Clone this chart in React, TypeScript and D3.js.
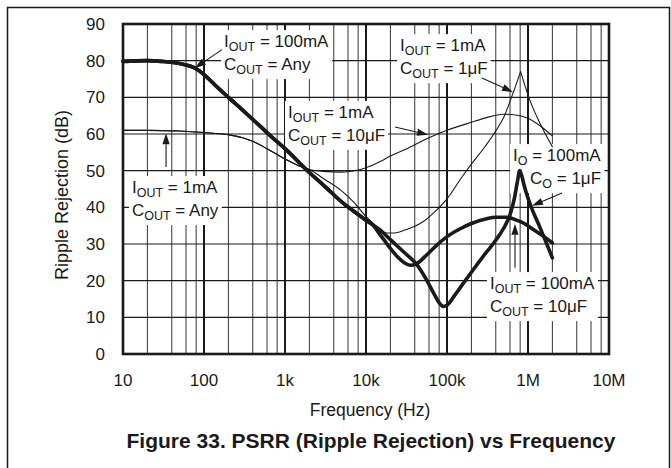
import { useEffect, useRef } from "react";
import * as d3 from "d3";

type Pt = [number, number];

const WIDTH = 671;
const HEIGHT = 468;
const MARGIN = { top: 24, right: 62, bottom: 114, left: 123 };
const FONT = "'Liberation Sans', Arial, Helvetica, sans-serif";
const INK = "#1a1a1a";

const X_TICKS = [10, 100, 1e3, 1e4, 1e5, 1e6, 1e7];
const X_TICK_LABELS = ["10", "100", "1k", "10k", "100k", "1M", "10M"];
const Y_TICKS = [0, 10, 20, 30, 40, 50, 60, 70, 80, 90];
const MINOR_STEPS = [2, 4, 6, 8];

// IOUT = 100mA, below ~12kHz the curve does not depend on COUT
const THICK_COMMON: Pt[] = [
  [10, 79.8], [20, 80], [30, 79.8], [50, 79.2], [80, 77.8], [100, 76.2],
  [150, 72.5], [200, 70], [300, 66.5], [500, 62], [700, 59], [1000, 56],
  [2000, 49.5], [3000, 46], [5000, 41.5], [7000, 39], [10000, 36.5], [12000, 35.3],
];
const THICK_10UF: Pt[] = [
  [15000, 32.5], [20000, 28.8], [25000, 26.3], [30000, 24.8], [35000, 24.2],
  [42000, 24.6], [56000, 27], [75000, 29.7], [100000, 32], [150000, 34.3],
  [200000, 35.6], [300000, 36.8], [400000, 37.3], [550000, 37.3], [700000, 36.6],
  [900000, 35.6], [1.1e6, 34.3], [1.5e6, 32.3], [2e6, 30.3],
];
const THICK_1UF: Pt[] = [
  [15000, 33.8], [20000, 31.2], [30000, 27.6], [42000, 24.5], [55000, 20.5],
  [70000, 16.2], [80000, 14], [90000, 13], [100000, 13.3], [120000, 15.5],
  [150000, 18.5], [200000, 22.3], [300000, 27.5], [400000, 31], [500000, 34.3],
  [600000, 38], [680000, 42.5], [740000, 47], [790000, 50], [840000, 48.5],
  [900000, 45.8], [1e6, 42.5], [1.1e6, 40], [1.4e6, 34.6], [2e6, 26.2],
];

// IOUT = 1mA, below ~2kHz the curve does not depend on COUT
const THIN_COMMON: Pt[] = [
  [10, 61], [20, 61], [50, 60.8], [100, 60.4], [200, 59.8], [300, 59],
  [400, 58], [600, 56], [1000, 53.2], [1500, 51.3], [2000, 50.3],
];
const THIN_10UF: Pt[] = [
  [3000, 49.8], [5000, 49.6], [7000, 49.9], [10000, 50.8], [15000, 52.5],
  [20000, 54], [32000, 56], [60000, 59], [100000, 61], [200000, 63.2],
  [300000, 64.4], [500000, 65.4], [700000, 65.2], [1e6, 64.3], [1.3e6, 62.8],
  [1.6e6, 61.3], [2e6, 59.5],
];
const THIN_1UF_RISE: Pt[] = [
  [3000, 47.8], [5000, 44.5], [7000, 41.5], [10000, 37.5], [12000, 35.8],
  [15000, 33.8], [18000, 33], [22000, 33], [30000, 33.8], [50000, 36],
  [70000, 38.7], [100000, 42.3], [150000, 48], [200000, 51.8], [300000, 56.8],
  [400000, 60.8], [500000, 64.5], [650000, 71], [810000, 77],
];
const THIN_1UF_FALL: Pt[] = [[810000, 77], [1.05e6, 69.3], [1.4e6, 63], [2e6, 56.5]];

const SERIES: { points: Pt[]; width: number }[] = [
  { points: [...THIN_COMMON, ...THIN_10UF], width: 1.1 },
  { points: [...THIN_COMMON, ...THIN_1UF_RISE], width: 1.1 },
  { points: THIN_1UF_FALL, width: 1.1 },
  { points: [...THICK_COMMON, ...THICK_10UF], width: 3.6 },
  { points: [...THICK_COMMON, ...THICK_1UF], width: 3.6 },
];

// each line: [main, subscript, rest, indent]
type NoteLine = [string, string, string, number];
interface Note {
  at: Pt;
  lines: NoteLine[];
  arrow: [Pt, Pt];
}

const NOTES: Note[] = [
  {
    at: [177, 83.7],
    lines: [["I", "OUT", " = 100mA", 0], ["C", "OUT", " = Any", 0]],
    arrow: [[167, 83], [77, 78]],
  },
  {
    at: [26300, 82.6],
    lines: [["I", "OUT", " = 1mA", 0], ["C", "OUT", " = 1\u03bcF", 0]],
    arrow: [[270000, 75.3], [653000, 71.4]],
  },
  {
    at: [1090, 64.4],
    lines: [["I", "OUT", " = 1mA", 0], ["C", "OUT", " = 10\u03bcF", 0]],
    arrow: [[22800, 61.9], [58300, 59.8]],
  },
  {
    at: [12.9, 43.9],
    lines: [["I", "OUT", " = 1mA", 0], ["C", "OUT", " = Any", 0]],
    arrow: [[34, 51], [34, 60.2]],
  },
  {
    at: [653000, 52.6],
    lines: [["I", "O", " = 100mA", 0], ["C", "O", " = 1\u03bcF", 17]],
    arrow: [[2.63e6, 43.9], [1.12e6, 40.4]],
  },
  {
    at: [339000, 17.7],
    lines: [["I", "OUT", " = 100mA", 0], ["C", "OUT", " = 10\u03bcF", 0]],
    arrow: [[691000, 23.5], [691000, 35.5]],
  },
];

export default function App() {
  const svgRef = useRef<SVGSVGElement>(null);

  useEffect(() => {
    document.body.style.margin = "0";
    const svg = d3.select(svgRef.current);
    svg.selectAll("*").remove();

    const plotW = WIDTH - MARGIN.left - MARGIN.right;
    const plotH = HEIGHT - MARGIN.top - MARGIN.bottom;
    const x = d3.scaleLog().domain([10, 1e7]).range([MARGIN.left, MARGIN.left + plotW]);
    const y = d3.scaleLinear().domain([0, 90]).range([MARGIN.top + plotH, MARGIN.top]);

    // outer frame
    svg.append("rect")
      .attr("x", 7.5).attr("y", 7.5)
      .attr("width", 662).attr("height", 480)
      .attr("fill", "none").attr("stroke", INK).attr("stroke-width", 1.5);

    // minor vertical grid
    const minor: number[] = [];
    for (let e = 1; e < 7; e++) MINOR_STEPS.forEach((k) => minor.push(k * 10 ** e));
    svg.append("g").selectAll("line").data(minor).join("line")
      .attr("x1", (d) => x(d)).attr("x2", (d) => x(d))
      .attr("y1", y(90)).attr("y2", y(0))
      .attr("stroke", "#333").attr("stroke-width", 1);

    // horizontal grid
    svg.append("g").selectAll("line").data(Y_TICKS).join("line")
      .attr("x1", x(10)).attr("x2", x(1e7))
      .attr("y1", (d) => y(d)).attr("y2", (d) => y(d))
      .attr("stroke", INK).attr("stroke-width", 1.2);

    // decade lines
    svg.append("g").selectAll("line").data(X_TICKS).join("line")
      .attr("x1", (d) => x(d)).attr("x2", (d) => x(d))
      .attr("y1", y(90)).attr("y2", y(0))
      .attr("stroke", INK).attr("stroke-width", 2);

    // annotation labels with white backgrounds
    const arrowHead = (from: Pt, to: Pt, g: d3.Selection<SVGGElement, unknown, null, undefined>) => {
      const x1 = x(from[0]), y1 = y(from[1]), x2 = x(to[0]), y2 = y(to[1]);
      const ang = Math.atan2(y2 - y1, x2 - x1);
      const len = 11, half = 3.6;
      const bx = x2 - len * Math.cos(ang), by = y2 - len * Math.sin(ang);
      g.append("line")
        .attr("x1", x1).attr("y1", y1).attr("x2", bx).attr("y2", by)
        .attr("stroke", INK).attr("stroke-width", 1.1);
      g.append("path")
        .attr("d", `M${x2},${y2}L${bx - half * Math.sin(ang)},${by + half * Math.cos(ang)}L${bx + half * Math.sin(ang)},${by - half * Math.cos(ang)}Z`)
        .attr("fill", INK);
    };

    const notesG = svg.append("g");
    NOTES.forEach((n) => {
      const g = notesG.append("g");
      const tg = g.append("g");
      n.lines.forEach(([main, sub, rest, indent], i) => {
        const t = tg.append("text")
          .attr("x", x(n.at[0]) + indent)
          .attr("y", y(n.at[1]) + i * 23)
          .attr("font-family", FONT).attr("font-size", 17).attr("fill", INK);
        t.append("tspan").text(main);
        t.append("tspan").attr("font-size", 12.5).attr("dy", 4).text(sub);
        t.append("tspan").attr("dy", -4).text(rest);
      });
      const bb = (tg.node() as SVGGElement).getBBox();
      g.insert("rect", ":first-child")
        .attr("x", bb.x - 3).attr("y", bb.y - 2)
        .attr("width", bb.width + 6).attr("height", bb.height + 4)
        .attr("fill", "white");
    });

    // curves
    const line = d3.line<Pt>()
      .x((d) => x(d[0]))
      .y((d) => y(d[1]))
      .curve(d3.curveMonotoneX);
    svg.append("g").selectAll("path").data(SERIES).join("path")
      .attr("d", (d) => line(d.points))
      .attr("fill", "none")
      .attr("stroke", INK)
      .attr("stroke-width", (d) => d.width)
      .attr("stroke-linejoin", "round")
      .attr("stroke-linecap", "round");

    const arrowsG = svg.append("g");
    NOTES.forEach((n) => arrowHead(n.arrow[0], n.arrow[1], arrowsG));

    // plot border
    svg.append("rect")
      .attr("x", x(10)).attr("y", y(90))
      .attr("width", plotW).attr("height", plotH)
      .attr("fill", "none").attr("stroke", INK).attr("stroke-width", 2.6);

    // tick labels
    svg.append("g").selectAll("text").data(Y_TICKS).join("text")
      .attr("x", x(10) - 18).attr("y", (d) => y(d)).attr("dy", "0.35em")
      .attr("text-anchor", "end")
      .attr("font-family", FONT).attr("font-size", 17).attr("fill", INK)
      .text((d) => String(d));

    svg.append("g").selectAll("text").data(X_TICKS).join("text")
      .attr("x", (d) => x(d)).attr("y", y(0) + 32)
      .attr("text-anchor", "middle")
      .attr("font-family", FONT).attr("font-size", 17).attr("fill", INK)
      .text((_, i) => X_TICK_LABELS[i]);

    // axis titles
    svg.append("text")
      .attr("x", MARGIN.left + plotW / 2 + 4).attr("y", y(0) + 62)
      .attr("text-anchor", "middle")
      .attr("font-family", FONT).attr("font-size", 17.5).attr("fill", INK)
      .text("Frequency (Hz)");

    svg.append("text")
      .attr("transform", `translate(62,${MARGIN.top + plotH / 2 + 6}) rotate(-90)`)
      .attr("text-anchor", "middle").attr("dy", "0.35em")
      .attr("font-family", FONT).attr("font-size", 18).attr("fill", INK)
      .text("Ripple Rejection (dB)");

    svg.append("text")
      .attr("x", 371).attr("y", 448)
      .attr("text-anchor", "middle")
      .attr("font-family", FONT).attr("font-size", 21).attr("font-weight", "bold").attr("fill", INK)
      .text("Figure 33. PSRR (Ripple Rejection) vs Frequency");
  }, []);

  return <svg ref={svgRef} width={WIDTH} height={HEIGHT} style={{ display: "block" }} />;
}
